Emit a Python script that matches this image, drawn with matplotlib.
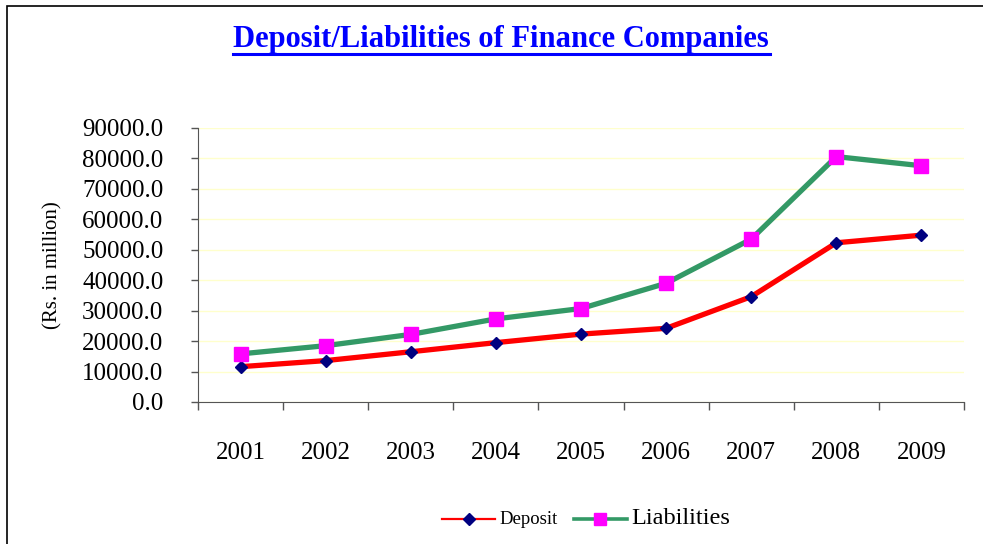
import matplotlib.pyplot as plt
from matplotlib.lines import Line2D
from matplotlib.patches import Rectangle
from matplotlib.ticker import MultipleLocator

years = ['2001', '2002', '2003', '2004', '2005', '2006', '2007', '2008', '2009']
deposit = [11600, 13600, 16500, 19500, 22300, 24200, 34600, 52300, 54800]
liabilities = [15800, 18500, 22200, 27300, 30700, 39000, 53500, 80600, 77600]


def main():
    plt.rc('font', family='Liberation Serif')
    fig = plt.figure(figsize=(9.83, 5.44), dpi=100)
    fig.patches.append(Rectangle((7 / 983, -0.01), 1.02, 1 - 6 / 544 + 0.01,
                                 transform=fig.transFigure, fill=False,
                                 edgecolor='black', lw=1.2))
    ax = fig.add_axes([198 / 983, 1 - 402 / 544, (964 - 198) / 983, (402 - 128) / 544])

    x = list(range(len(years)))
    ax.plot(x, deposit, color='#ff0000', lw=3.8, marker='D', ms=6.5,
            mfc='#000080', mec='#000080', zorder=3)
    ax.plot(x, liabilities, color='#339966', lw=3.8, marker='s', ms=10,
            mfc='#ff00ff', mec='#ff00ff', zorder=3)

    ax.set_xlim(-0.5, 8.5)
    ax.set_ylim(0, 90000)
    ax.yaxis.set_major_locator(MultipleLocator(10000))
    ax.set_yticklabels([f'{v:.1f}' for v in ax.get_yticks()])
    ax.set_xticks(x)
    ax.set_xticklabels(years)
    ax.xaxis.set_minor_locator(MultipleLocator(1, offset=0.5))
    ax.tick_params(axis='x', which='major', length=0, pad=29, labelsize=18)
    ax.tick_params(axis='x', which='minor', length=6, width=1, color='#555555')
    ax.tick_params(axis='y', length=5, width=1, color='#555555', pad=20, labelsize=18)
    ax.grid(axis='y', color='#ffffcc', lw=1)
    ax.set_axisbelow(True)
    for side in ('top', 'right'):
        ax.spines[side].set_visible(False)
    for side in ('left', 'bottom'):
        ax.spines[side].set_color('#555555')
    ax.set_ylabel('(Rs. in million)', fontsize=15, labelpad=14)

    fig.text(0.5095, 1 - 40 / 544, 'Deposit/Liabilities of Finance Companies',
             ha='center', va='center', fontsize=22, fontweight='bold',
             color='#0000ff')
    fig.add_artist(Line2D([233 / 983, 770 / 983], [1 - 54 / 544] * 2,
                          transform=fig.transFigure, color='#0000ff', lw=2.2))

    handles = [Line2D([], [], color='#ff0000', lw=1.6, marker='D', ms=6.5,
                      mfc='#000080', mec='#000080'),
               Line2D([], [], color='#339966', lw=2.6, marker='s', ms=8.5,
                      mfc='#ff00ff', mec='#ff00ff')]
    leg = ax.legend(handles, ['Deposit', 'Liabilities'], loc='center',
                    bbox_to_anchor=(586 / 983, 1 - 518 / 544),
                    bbox_transform=fig.transFigure, ncol=2, frameon=False,
                    handlelength=3.8, handletextpad=0.3, columnspacing=1.2)
    leg.get_texts()[0].set_fontsize(13.5)
    leg.get_texts()[1].set_fontsize(17.5)

    plt.savefig('out.png', dpi=100)


if __name__ == '__main__':
    main()
